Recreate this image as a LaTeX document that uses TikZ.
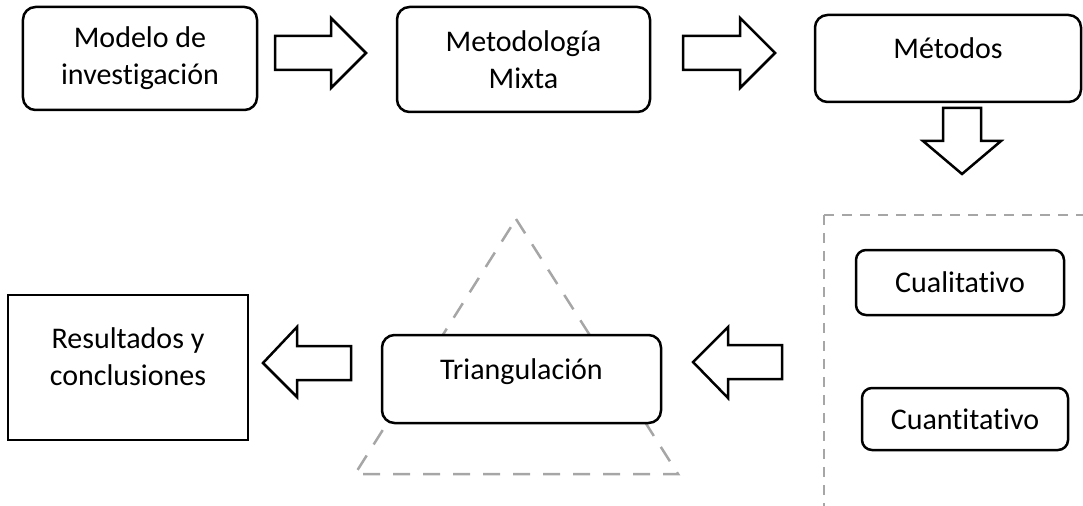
\documentclass[tikz,border=0pt]{standalone}
\usepackage{fontspec}
\setmainfont{Carlito}[Ligatures=NoCommon]
\usepackage{tikz}
\definecolor{framegray}{RGB}{166,166,166}
\tikzset{
    roundbox/.style={draw, line width=1pt, rounded corners=5pt, fill=white, align=center},
    plainbox/.style={draw, line width=1pt, fill=white, align=center},
    blockarrow/.style={draw, line width=1pt, fill=white, line join=miter},
    grayframe/.style={draw=framegray, line width=1pt, dash pattern=on 4pt off 3.2pt},
    graytriangle/.style={draw=framegray, line width=1pt, dash pattern=on 6.8pt off 5.2pt}
}

\begin{document}
\begin{tikzpicture}[x=0.4pt, y=-0.4pt, font=\fontsize{12}{14.8}\selectfont]
    \clip (0,0) rectangle (1083,505);
    % dashed background shapes
    \draw[graytriangle] (516,219) -- (678,474) -- (355,474) -- cycle;
    \draw[grayframe] (824,215) rectangle (1100,520);
    % boxes
    \node[roundbox, minimum width=93.6pt, minimum height=41.2pt] (modelo) at (140,58.5) {Modelo de\\investigación};
    \node[roundbox, minimum width=101.2pt, minimum height=42pt] (metodologia) at (523.5,59.5) {Metodología\\Mixta};
    \node[roundbox, minimum width=106.4pt, minimum height=34.8pt, text height=10pt, text depth=10pt] (metodos) at (948,58.5) {Métodos};
    \node[roundbox, rounded corners=4pt, minimum width=83.2pt, minimum height=26pt] (cualitativo) at (960,282.5) {Cualitativo};
    \node[roundbox, rounded corners=4pt, minimum width=82.4pt, minimum height=24.8pt] (cuantitativo) at (965,419) {Cuantitativo};
    \node[roundbox, minimum width=111.6pt, minimum height=35.2pt, text height=10pt, text depth=10pt] (triangulacion) at (521.5,379) {Triangulación};
    \node[plainbox, minimum width=96pt, minimum height=58pt, text height=26pt, text depth=12pt] (resultados) at (128,367.5) {Resultados y\\conclusiones};
    % block arrows
    \draw[blockarrow] (275,36) -- (331,36) -- (331,18) -- (366,53) -- (331,88) -- (331,70) -- (275,70) -- cycle;
    \draw[blockarrow] (683,36) -- (740,36) -- (740,18) -- (775,53) -- (740,88) -- (740,70) -- (683,70) -- cycle;
    \draw[blockarrow] (943,108) -- (981,108) -- (981,141) -- (1001,141) -- (962,174) -- (923,141) -- (943,141) -- cycle;
    \draw[blockarrow] (782,345) -- (728,345) -- (728,327) -- (693,362) -- (728,398) -- (728,379) -- (782,379) -- cycle;
    \draw[blockarrow] (351,346) -- (297,346) -- (297,327) -- (263,363) -- (297,397) -- (297,380) -- (351,380) -- cycle;
\end{tikzpicture}
\end{document}
